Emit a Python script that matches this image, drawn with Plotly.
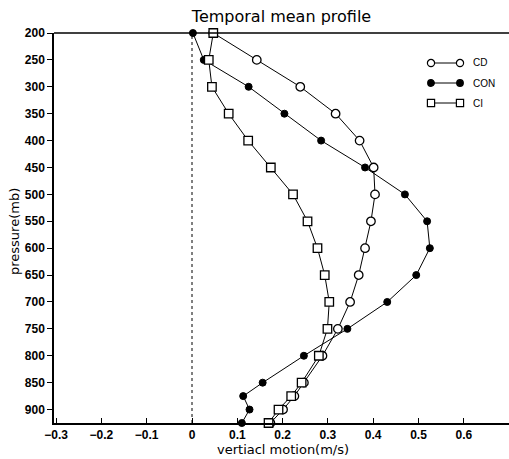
import plotly.graph_objects as go

pressure = [200, 250, 300, 350, 400, 450, 500, 550, 600, 650, 700, 750, 800, 850, 875, 900, 925]
con = [0.002, 0.026, 0.125, 0.204, 0.285, 0.382, 0.470, 0.519, 0.525, 0.495, 0.431, 0.343, 0.247, 0.156, 0.113, 0.127, 0.110]
cd = [0.047, 0.143, 0.239, 0.317, 0.370, 0.401, 0.404, 0.395, 0.382, 0.368, 0.349, 0.322, 0.288, 0.247, 0.226, 0.201, 0.173]
ci = [0.047, 0.037, 0.044, 0.081, 0.124, 0.174, 0.223, 0.255, 0.277, 0.293, 0.303, 0.299, 0.280, 0.242, 0.219, 0.191, 0.169]

x_ticks = [-0.3, -0.2, -0.1, 0, 0.1, 0.2, 0.3, 0.4, 0.5, 0.6]
x_tick_labels = ["\u22120.3", "\u22120.2", "\u22120.1", "0", "0.1", "0.2", "0.3", "0.4", "0.5", "0.6"]
y_ticks = [200, 250, 300, 350, 400, 450, 500, 550, 600, 650, 700, 750, 800, 850, 900]

W, H = 509, 459
L, R, T, B = 54, 0, 33, 36
PW, PH = W - L - R, H - T - B

fig = go.Figure()

series = [
    ("CON", con, dict(symbol="circle", size=7, color="black", line=dict(color="black", width=1))),
    ("CD", cd, dict(symbol="circle", size=8.5, color="white", line=dict(color="black", width=1.3))),
    ("CI", ci, dict(symbol="square", size=8.5, color="white", line=dict(color="black", width=1.3))),
]
for name, vals, mk in series:
    fig.add_trace(go.Scatter(x=vals, y=pressure, mode="lines+markers", name=name,
                             line=dict(color="black", width=1), marker=mk,
                             showlegend=False, cliponaxis=False, hoverinfo="skip"))

def px(xp):
    return (xp - L) / PW

def py(yp):
    return 1 - (yp - T) / PH

shapes = []
annotations = []
# zero reference line
shapes.append(dict(type="line", xref="x", yref="paper", x0=0, x1=0, y0=0, y1=1,
                   line=dict(color="black", width=1, dash="dot"), layer="below"))
# top border line
shapes.append(dict(type="line", xref="paper", yref="paper", x0=0, x1=1, y0=1, y1=1,
                   line=dict(color="black", width=1.5)))

# custom legend
leg = [("CD", 63, "circle", "white"), ("CON", 83, "circle", "black"), ("CI", 103, "rect", "white")]
for name, yy, kind, fill in leg:
    shapes.append(dict(type="line", xref="paper", yref="paper", x0=px(431), x1=px(460),
                       y0=py(yy), y1=py(yy), line=dict(color="black", width=1)))
    r = 3.3 if fill == "black" else 3.6
    for cx in (431, 460):
        shapes.append(dict(type=kind, xref="paper", yref="paper",
                           x0=px(cx - r), x1=px(cx + r), y0=py(yy + r), y1=py(yy - r),
                           fillcolor=fill, line=dict(color="black", width=1.2)))
    annotations.append(dict(text=name, xref="paper", yref="paper", x=px(471), y=py(yy),
                            xanchor="left", yanchor="middle", showarrow=False,
                            font=dict(family="Liberation Sans", size=10, color="black")))

# axis titles
annotations.append(dict(text="vertiacl motion(m/s)", xref="paper", yref="paper",
                        x=px(283), y=py(449), xanchor="center", yanchor="middle", showarrow=False,
                        font=dict(family="DejaVu Sans", size=13, color="black")))
annotations.append(dict(text="pressure(mb)", xref="paper", yref="paper", textangle=-90,
                        x=px(14), y=py(232), xanchor="center", yanchor="middle", showarrow=False,
                        font=dict(family="DejaVu Sans", size=13, color="black")))

PXU = 453.0  # pixels per unit of x
X0PX = 192.0  # pixel of x = 0
fig.update_layout(
    width=W, height=H,
    margin=dict(l=L, r=R, t=T, b=B),
    paper_bgcolor="white", plot_bgcolor="white",
    title=dict(text="Temporal mean profile", x=(L + PW / 2) / W, y=1 - 16 / H,
               xanchor="center", yanchor="middle", xref="container", yref="container",
               font=dict(family="DejaVu Sans", size=16, color="black")),
    shapes=shapes, annotations=annotations,
    xaxis=dict(range=[(L - X0PX) / PXU, (W - R - X0PX) / PXU], tickvals=x_ticks, ticktext=x_tick_labels,
               ticks="inside", ticklen=5, tickcolor="black", tickwidth=1,
               showgrid=False, zeroline=False, showline=True, linecolor="black", linewidth=1.5,
               tickfont=dict(family="Liberation Sans", size=12, color="black", weight="bold")),
    yaxis=dict(range=[925, 200], tickvals=y_ticks, ticks="outside", ticklen=5,
               tickcolor="black", tickwidth=1,
               showgrid=False, zeroline=False, showline=True, linecolor="black", linewidth=1.5,
               tickfont=dict(family="Liberation Sans", size=12, color="black", weight="bold")),
)

fig.write_html("out.html", config={"displayModeBar": False},
               post_script="document.body.style.margin='0';")
